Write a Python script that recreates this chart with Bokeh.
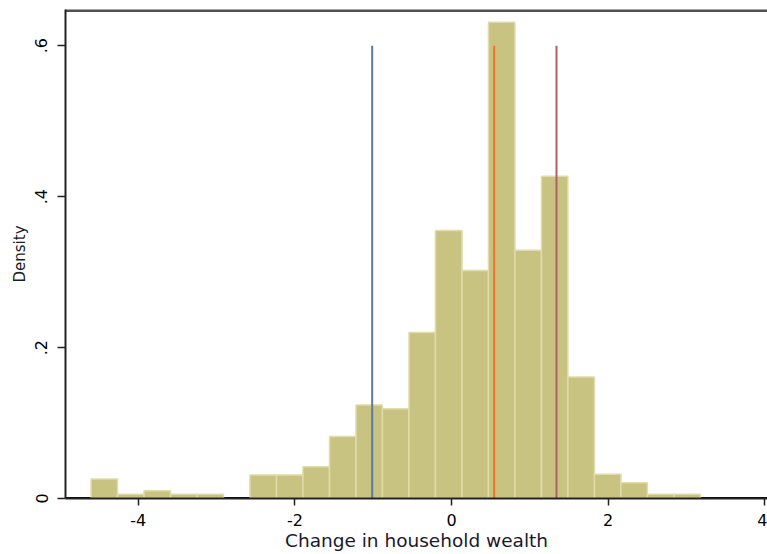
from bokeh.plotting import figure
from bokeh.models import Range1d, FixedTicker, CustomJSTickFormatter
from bokeh.embed import file_html
from bokeh.resources import INLINE

# ---- data ----
bin_edges = [-4.604, -4.266, -3.927, -3.589, -3.250, -2.912, -2.574, -2.235,
             -1.897, -1.558, -1.220, -0.882, -0.543, -0.205, 0.134, 0.472,
             0.810, 1.149, 1.487, 1.826, 2.164, 2.502, 2.841, 3.179]
density = [0.026, 0.0056, 0.0103, 0.0056, 0.0056, 0.0, 0.031, 0.031,
           0.042, 0.082, 0.124, 0.119, 0.220, 0.355, 0.302, 0.631,
           0.329, 0.427, 0.161, 0.032, 0.021, 0.0056, 0.0056]
line_x = [-1.013, 0.545, 1.341]
line_top = 0.6
line_colors = ["#5b7aa3", "#f3732a", "#b05f63"]
x_ticks = [-4, -2, 0, 2, 4]
y_ticks = [0, 0.2, 0.4, 0.6]
x_label = "Change in household wealth"
y_label = "Density"

X0, X1 = -4.93, 4.036
Y0, Y1 = 0.0, 0.648

p = figure(width=767, height=554, output_backend="svg", toolbar_location=None,
           x_range=Range1d(X0, X1), y_range=Range1d(Y0, Y1),
           min_border_left=65, min_border_right=0, min_border_top=9,
           min_border_bottom=56)
p.outline_line_color = None
p.grid.visible = False
p.background_fill_color = "white"
p.border_fill_color = "white"

# black baseline under the bars
p.line(x=[X0, X1], y=[0, 0], line_width=3, line_color="black")

left = [bin_edges[i] for i in range(len(density)) if density[i] > 0]
right = [bin_edges[i + 1] for i in range(len(density)) if density[i] > 0]
top = [d for d in density if d > 0]
p.quad(left=left, right=right, bottom=0, top=top,
       fill_color="#c9c382", line_color="#dfdbab", line_width=1.5)

p.segment(x0=line_x, y0=[0] * len(line_x), x1=line_x, y1=[line_top] * len(line_x),
          line_color=line_colors, line_width=2)

# top border of the plot region
p.line(x=[X0, X1], y=[Y1, Y1], line_width=5, line_color="#505050")

FONT = "DejaVu Sans"
for ax in (p.xaxis[0], p.yaxis[0]):
    ax.axis_line_color = "#222222"
    ax.axis_line_width = 2
    ax.major_tick_line_color = "#222222"
    ax.major_tick_line_width = 1.5
    ax.major_tick_in = 0
    ax.minor_tick_line_color = None
    ax.major_label_text_font = FONT
    ax.major_label_text_color = "black"
    ax.axis_label_text_font = FONT
    ax.axis_label_text_font_style = "normal"
    ax.axis_label_text_color = "#1a1a2a"

p.xaxis.major_label_text_font_size = "16px"
p.yaxis.major_label_text_font_size = "16px"
p.xaxis.axis_label_text_font_size = "18.5px"
p.yaxis.axis_label_text_font_size = "15px"

p.xaxis.ticker = FixedTicker(ticks=x_ticks)
p.yaxis.ticker = FixedTicker(ticks=y_ticks)
p.xaxis.major_tick_out = 7
p.yaxis.major_tick_out = 8
p.xaxis.major_label_standoff = 8
p.yaxis.major_label_standoff = 10
p.xaxis.axis_label_standoff = 1
p.yaxis.axis_label_standoff = 4
p.xaxis.axis_label = x_label
p.yaxis.axis_label = y_label
p.yaxis.major_label_orientation = "vertical"
p.xaxis.formatter = CustomJSTickFormatter(code="return String(tick);")
p.yaxis.formatter = CustomJSTickFormatter(
    code="if (tick == 0) { return '0'; } return tick.toFixed(1).replace('0.', '.');")

open("out.html", "w").write(file_html(p, INLINE))
